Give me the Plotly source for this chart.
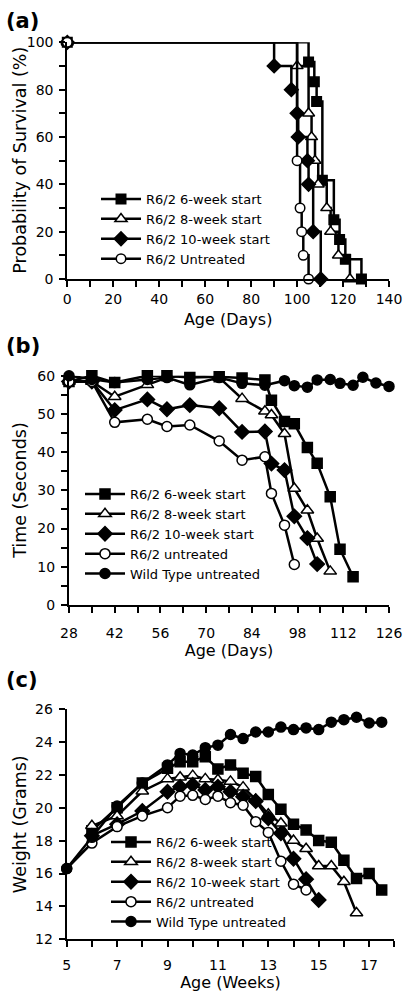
import plotly.graph_objects as go

# ---------------- Panel (a): Kaplan-Meier survival ----------------
a_days_6 = [0, 105, 107.5, 108.5, 111, 116, 118.5, 121, 128]
a_surv_6 = [100, 91.7, 83.3, 75, 41.7, 25, 16.7, 8.3, 0]
a_days_8 = [0, 100, 105, 106.3, 107.8, 109.2, 112.9, 114.6, 118, 123]
a_surv_8 = [100, 90, 70, 60, 50, 40, 30, 20, 10, 0]
a_days_10 = [0, 90, 97.5, 100, 100.5, 104.5, 105, 107, 110.3]
a_surv_10 = [100, 90, 80, 70, 60, 50, 40, 20, 0]
a_days_un = [0, 100, 101.3, 102, 102.7, 105]
a_surv_un = [100, 50, 30, 20, 10, 0]

# ---------------- Panel (b): rotarod time ----------------
b_days_6 = [28, 35, 42, 52, 58, 65, 74, 81, 88, 90, 94, 97, 101, 104, 108, 111, 115]
b_time_6 = [58.5, 60.0, 58.2, 60.0, 60.0, 59.5, 59.7, 59.4, 58.9, 53.6, 48.0, 47.4, 41.2, 37.1, 28.3, 14.6, 7.4]
b_days_8 = [28, 35, 42, 52, 58, 65, 74, 81, 88, 90, 94, 97, 101, 104, 108]
b_time_8 = [58.5, 58.5, 54.5, 57.6, 59.5, 60.2, 59.5, 54.0, 50.7, 49.7, 44.8, 30.5, 24.8, 17.4, 8.8]
b_days_10 = [28, 35, 42, 52, 58, 65, 74, 81, 88, 90, 94, 97, 101, 104]
b_time_10 = [58.5, 58.5, 51.0, 53.8, 51.2, 52.3, 51.5, 45.3, 45.4, 37.0, 35.3, 23.2, 17.5, 10.7]
b_days_un = [28, 35, 42, 52, 58, 65, 74, 81, 88, 90, 94, 97]
b_time_un = [58.5, 58.5, 47.8, 48.6, 46.7, 47.1, 42.9, 37.9, 38.8, 29.2, 20.9, 10.6]
b_days_wt = [28, 35, 42, 52, 58, 65, 74, 81, 88, 94, 97, 101, 104, 108, 111, 115, 118, 122, 126]
b_time_wt = [60.0, 59.0, 58.2, 59.0, 59.5, 57.6, 59.5, 58.0, 57.5, 58.7, 57.4, 57.0, 58.9, 59.0, 58.0, 57.5, 59.6, 58.1, 57.2]

# ---------------- Panel (c): body weight ----------------
c_wk_6 = [6, 7, 8, 9, 9.5, 10, 10.5, 11, 11.5, 12, 12.5, 13, 13.5, 14, 14.5, 15, 15.5, 16, 16.5, 17, 17.5]
c_wt_6 = [18.6, 20.0, 21.5, 22.4, 22.8, 22.8, 23.1, 22.35, 22.6, 22.1, 21.9, 20.8, 19.9, 19.0, 18.65, 18.0, 17.9, 16.8, 15.7, 16.0, 15.0]
c_wk_8 = [6, 7, 8, 9, 9.5, 10, 10.5, 11, 11.5, 12, 12.5, 13, 13.5, 14, 14.5, 15, 15.5, 16, 16.5]
c_wt_8 = [18.9, 19.5, 21.0, 21.75, 21.85, 21.95, 21.75, 21.7, 21.6, 21.25, 20.5, 19.6, 19.05, 18.0, 17.5, 16.46, 16.46, 15.5, 13.6]
c_wk_10 = [6, 7, 8, 9, 9.5, 10, 10.5, 11, 11.5, 12, 12.5, 13, 13.5, 14, 14.5, 15]
c_wt_10 = [18.3, 19.0, 19.8, 20.97, 21.28, 21.4, 21.08, 21.28, 20.97, 20.67, 20.4, 19.35, 18.44, 16.9, 15.65, 14.39]
c_wk_un = [5, 6, 7, 8, 9, 9.5, 10, 10.5, 11, 11.5, 12, 12.5, 13, 13.5, 14, 14.5]
c_wt_un = [16.3, 17.85, 18.85, 19.5, 20.0, 20.7, 20.75, 20.5, 20.7, 20.3, 20.15, 19.15, 18.5, 16.75, 15.35, 15.0]
c_wk_wt = [5, 6, 7, 8, 9, 9.5, 10, 10.5, 11, 11.5, 12, 12.5, 13, 13.5, 14, 14.5, 15, 15.5, 16, 16.5, 17, 17.5]
c_wt_wt = [16.3, 18.2, 20.1, 21.5, 22.6, 23.3, 23.2, 23.65, 23.8, 24.45, 24.2, 24.6, 24.6, 24.9, 24.75, 24.85, 24.75, 25.2, 25.35, 25.5, 25.15, 25.2]

names_a = ["R6/2 6-week start", "R6/2 8-week start", "R6/2 10-week start", "R6/2 Untreated"]
names_bc = ["R6/2 6-week start", "R6/2 8-week start", "R6/2 10-week start", "R6/2 untreated", "Wild Type untreated"]
ytitles = ["Probability of Survival (%)", "Time (Seconds)", "Weight (Grams)"]

symbols = ["square", "triangle-up", "diamond", "circle", "circle"]
fills = ["black", "white", "black", "white", "black"]
sizes_a = [9.5, 10.5, 10.5, 9.5]
sizes_bc = [10, 11, 11, 10, 10]

FONT = "DejaVu Sans, Verdana, sans-serif"
fig = go.Figure()

def add(x, y, name, i, xa, ya, legend, size, shape="linear"):
    fig.add_trace(go.Scatter(
        x=x, y=y, name=name, mode="lines+markers",
        xaxis=xa, yaxis=ya, legend=legend, legendgroup=legend + str(i),
        line=dict(color="black", width=2.5, shape=shape),
        marker=dict(symbol=symbols[i], size=size, color=fills[i],
                    line=dict(color="black", width=1.5)),
        cliponaxis=False, showlegend=True,
    ))

a_sets = [(a_days_6, a_surv_6), (a_days_8, a_surv_8), (a_days_10, a_surv_10), (a_days_un, a_surv_un)]
for i, (x, y) in enumerate(a_sets):
    add(x, y, names_a[i], i, "x", "y", "legend", sizes_a[i], shape="hv")

b_sets = [(b_days_6, b_time_6), (b_days_8, b_time_8), (b_days_10, b_time_10), (b_days_un, b_time_un), (b_days_wt, b_time_wt)]
for i, (x, y) in enumerate(b_sets):
    add(x, y, names_bc[i], i, "x2", "y2", "legend2", sizes_bc[i])

c_sets = [(c_wk_6, c_wt_6), (c_wk_8, c_wt_8), (c_wk_10, c_wt_10), (c_wk_un, c_wt_un), (c_wk_wt, c_wt_wt)]
for i, (x, y) in enumerate(c_sets):
    add(x, y, names_bc[i], i, "x3", "y3", "legend3", sizes_bc[i])

W, H = 406, 995
def xd(a, b): return [a / W, b / W]
def yd(top, bot): return [1 - bot / H, 1 - top / H]

ax_common = dict(showline=True, linecolor="black", linewidth=2, ticks="outside",
                 ticklen=6, tickwidth=1.5, tickcolor="black", showgrid=False,
                 zeroline=False, automargin=False,
                 tickfont=dict(family=FONT, size=14, color="black"))
xt = dict(family=FONT, size=16, color="black")
yt = dict(family=FONT, size=17.5, color="black")
mn = dict(ticks="outside", ticklen=6, tickwidth=1.5, tickcolor="black")

fig.update_layout(
    width=W, height=H, margin=dict(l=0, r=0, t=0, b=0),
    paper_bgcolor="white", plot_bgcolor="white",
    font=dict(family=FONT, color="black"),
    xaxis=dict(ax_common, domain=xd(67.3, 389), range=[0, 140], tick0=0, dtick=20,
               minor=dict(mn, dtick=10), anchor="y", ticklabelstandoff=0,
               title=dict(text="Age (Days)", font=xt, standoff=8)),
    yaxis=dict(ax_common, domain=yd(42.3, 279), range=[0, 100], tick0=0, dtick=20,
               minor=dict(mn, dtick=10), anchor="x", ticklabelstandoff=3),
    xaxis2=dict(ax_common, domain=xd(69, 389), range=[28, 126], tick0=28, dtick=14,
                minor=dict(mn, dtick=7, tick0=28), anchor="y2", ticklabelstandoff=8,
                title=dict(text="Age (Days)", font=xt, standoff=4)),
    yaxis2=dict(ax_common, domain=yd(375.7, 605), range=[0, 60], tick0=0, dtick=10,
                minor=dict(mn, dtick=5), anchor="x2", ticklabelstandoff=3),
    xaxis3=dict(ax_common, domain=xd(66.7, 394.3), range=[5, 18], tick0=5, dtick=2,
                minor=dict(mn, dtick=1, tick0=5), anchor="y3", ticklabelstandoff=6,
                title=dict(text="Age (Weeks)", font=xt, standoff=4)),
    yaxis3=dict(ax_common, domain=yd(709, 939.3), range=[12, 26], tick0=12, dtick=2,
                anchor="x3", ticklabelstandoff=3),
)

# y-axis titles placed precisely beside each panel
for txt, xc, (top, bot) in zip(ytitles, [20, 20.5, 20], [(42.3, 279), (375.7, 605), (709, 939.3)]):
    fig.add_annotation(text=txt, xref="paper", yref="paper", x=xc / W, y=1 - (top + bot) / 2 / H,
                       xanchor="center", yanchor="middle", textangle=-90, showarrow=False,
                       font=yt)

leg_common = dict(bgcolor="rgba(0,0,0,0)", borderwidth=0, xanchor="left", yanchor="top",
                  font=dict(family=FONT, size=13, color="black"), itemwidth=40,
                  tracegroupgap=0, traceorder="grouped", itemclick=False, itemdoubleclick=False)
fig.update_layout(
    legend=dict(leg_common, x=96 / W, y=1 - 184 / H),
    legend2=dict(leg_common, x=80 / W, y=1 - 479 / H),
    legend3=dict(leg_common, x=106 / W, y=1 - 827 / H),
)

for txt, ymid in [("(a)", 21), ("(b)", 346), ("(c)", 680)]:
    fig.add_annotation(text="<b>" + txt + "</b>", xref="paper", yref="paper",
                       x=4 / W, y=1 - ymid / H, xanchor="left", yanchor="middle",
                       showarrow=False, font=dict(family=FONT, size=21, color="black"))

fig.write_html("out.html", config={"displayModeBar": False},
               post_script="document.body.style.margin='0px';")
